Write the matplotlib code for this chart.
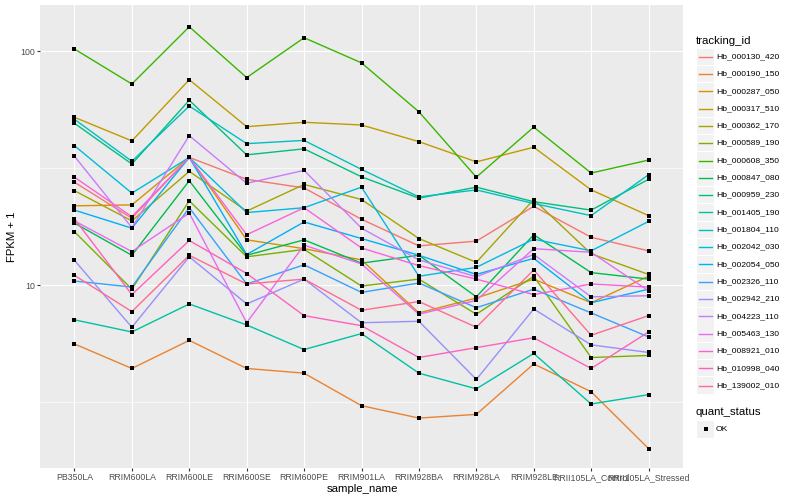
import matplotlib
matplotlib.use('Agg')
import matplotlib.pyplot as plt
import numpy as np
from matplotlib.patches import Rectangle
from matplotlib.ticker import FixedLocator, FixedFormatter, NullFormatter

plt.rcParams['font.family'] = ['Liberation Sans', 'DejaVu Sans']

samples = ['PB350LA', 'RRIM600LA', 'RRIM600LE', 'RRIM600SE', 'RRIM600PE', 'RRIM901LA',
           'RRIM928BA', 'RRIM928LA', 'RRIM928LE', 'RRII105LA_Control', 'RRII105LA_Stressed']

tracking_ids = ['Hb_000130_420', 'Hb_000190_150', 'Hb_000287_050', 'Hb_000317_510',
                'Hb_000362_170', 'Hb_000589_190', 'Hb_000608_350', 'Hb_000847_080',
                'Hb_000959_230', 'Hb_001405_190', 'Hb_001804_110', 'Hb_002042_030',
                'Hb_002054_050', 'Hb_002326_110', 'Hb_002942_210', 'Hb_004223_110',
                'Hb_005463_130', 'Hb_008921_010', 'Hb_010998_040', 'Hb_139002_010']

# FPKM + 1 values, one list per gene (order of samples)
hb_000130_420 = [27.5, 19.3, 35.1, 28.3, 26.0, 19.1, 14.7, 15.4, 21.7, 16.0, 14.0]
hb_000190_150 = [5.6, 4.4, 5.8, 4.4, 4.2, 3.05, 2.7, 2.8, 4.6, 3.5, 2.0]
hb_000287_050 = [21.8, 22.0, 35.1, 15.6, 14.3, 12.8, 7.6, 8.8, 10.6, 8.4, 10.9]
hb_000317_510 = [52.1, 41.3, 75.4, 47.5, 49.6, 48.3, 41.0, 33.6, 38.8, 25.5, 19.8]
hb_000362_170 = [25.3, 18.8, 30.6, 20.7, 26.9, 23.2, 15.8, 12.5, 23.2, 13.6, 11.1]
hb_000589_190 = [16.9, 9.6, 22.9, 13.2, 14.2, 9.9, 10.6, 7.5, 10.9, 4.9, 5.0]
hb_000608_350 = [102.0, 72.3, 127.0, 77.0, 114.0, 89.0, 55.0, 28.9, 47.3, 30.1, 34.2]
hb_000847_080 = [18.4, 13.4, 27.9, 13.4, 15.6, 12.4, 13.4, 8.9, 16.4, 11.3, 10.6]
hb_000959_230 = [49.1, 32.9, 61.6, 36.0, 38.2, 29.0, 23.5, 26.2, 22.7, 20.9, 28.3]
hb_001405_190 = [7.1, 6.3, 8.3, 6.75, 5.3, 6.2, 4.2, 3.6, 5.1, 3.1, 3.4]
hb_001804_110 = [51.1, 33.8, 58.2, 40.2, 41.5, 31.2, 23.8, 25.5, 22.3, 19.8, 29.6]
hb_002042_030 = [39.4, 24.7, 35.1, 20.4, 21.4, 26.2, 10.9, 11.9, 15.7, 14.0, 18.7]
hb_002054_050 = [20.9, 17.5, 35.1, 13.5, 18.6, 15.8, 13.4, 11.1, 13.0, 8.4, 9.6]
hb_002326_110 = [10.4, 9.8, 21.4, 10.1, 12.2, 9.3, 10.2, 8.0, 9.6, 7.6, 6.0]
hb_002942_210 = [12.75, 6.6, 13.2, 8.3, 10.6, 6.9, 7.0, 3.95, 7.9, 5.55, 5.15]
hb_004223_110 = [35.5, 17.6, 43.5, 27.2, 30.9, 17.5, 12.8, 10.85, 13.5, 8.9, 9.0]
hb_005463_130 = [18.8, 13.9, 20.3, 6.9, 14.8, 12.3, 7.5, 8.6, 14.3, 13.8, 9.45]
hb_008921_010 = [28.9, 19.6, 35.1, 16.4, 21.4, 14.4, 12.1, 10.6, 9.1, 10.1, 9.8]
hb_010998_040 = [19.2, 9.1, 15.5, 11.2, 7.4, 6.7, 4.9, 5.4, 5.95, 4.4, 6.3]
hb_139002_010 = [11.0, 7.7, 13.4, 10.1, 10.6, 7.8, 8.5, 6.6, 11.6, 6.1, 7.4]

series = [hb_000130_420, hb_000190_150, hb_000287_050, hb_000317_510, hb_000362_170,
          hb_000589_190, hb_000608_350, hb_000847_080, hb_000959_230, hb_001405_190,
          hb_001804_110, hb_002042_030, hb_002054_050, hb_002326_110, hb_002942_210,
          hb_004223_110, hb_005463_130, hb_008921_010, hb_010998_040, hb_139002_010]

colors = ['#F8766D', '#EA8331', '#D89000', '#C09B00', '#A3A500', '#7CAE00', '#39B600',
          '#00BB4E', '#00BF7D', '#00C1A3', '#00BFC4', '#00BAE0', '#00B0F6', '#35A2FF',
          '#9590FF', '#C77CFF', '#E76BF3', '#FA62DB', '#FF62BC', '#FF6C91']

fig = plt.figure(figsize=(8, 5), dpi=100)
ax = fig.add_axes([40 / 800, 32 / 500, 643 / 800, 463 / 500])
ax.set_facecolor('#EBEBEB')

x = np.arange(len(samples))
for vals, col in zip(series, colors):
    ax.plot(x, vals, color=col, lw=1.0, zorder=2)
for vals in series:
    ax.plot(x, vals, ls='none', marker='s', ms=3.1, mew=0, color='black', zorder=3)

ax.set_yscale('log')
ax.set_ylim(1.652, 157.3)
ax.set_xlim(-0.6, len(samples) - 0.4)
ax.set_xticks(x)
ax.set_xticklabels(samples)
ax.yaxis.set_major_locator(FixedLocator([10, 100]))
ax.yaxis.set_major_formatter(FixedFormatter(['10', '100']))
ax.yaxis.set_minor_locator(FixedLocator([10 ** 0.5, 10 ** 1.5]))
ax.yaxis.set_minor_formatter(NullFormatter())
ax.xaxis.set_minor_locator(FixedLocator([]))
ax.grid(which='major', color='white', lw=0.85)
ax.grid(which='minor', axis='y', color='white', lw=0.45)
ax.set_axisbelow(True)
for s in ax.spines.values():
    s.set_visible(False)
ax.tick_params(which='major', length=2, width=0.8, color='#333333',
               labelsize=6.3, labelcolor='#4D4D4D', pad=1.5)
ax.tick_params(which='minor', length=0)

ov = fig.add_axes([0, 0, 1, 1], zorder=5)
ov.set_xlim(0, 800)
ov.set_ylim(500, 0)
ov.axis('off')

ov.text(362, 489, 'sample_name', fontsize=8.2, ha='center', va='center', color='black')
ov.text(12, 237, 'FPKM + 1', fontsize=8.2, ha='center', va='center', rotation=90, color='black')

ov.text(696, 40.5, 'tracking_id', fontsize=8.2, ha='left', va='center')
step = 17.31
for i, (name, col) in enumerate(zip(tracking_ids, colors)):
    yc = 56.7 + i * step
    ov.add_patch(Rectangle((697.3, yc - 8.2), 16.4, 16.4, facecolor='#F2F2F2', edgecolor='none'))
    ov.plot([698.5, 712.2], [yc, yc], color=col, lw=1.0)
    ov.text(716, yc, name, fontsize=6.1, ha='left', va='center', color='black')

ov.text(696, 412.3, 'quant_status', fontsize=8.2, ha='left', va='center')
ov.add_patch(Rectangle((697.3, 429.3 - 8.2), 16.4, 16.4, facecolor='#F2F2F2', edgecolor='none'))
ov.plot([705.5], [429.3], ls='none', marker='s', ms=3.1, mew=0, color='black')
ov.text(716, 429.3, 'OK', fontsize=6.1, ha='left', va='center', color='black')

fig.savefig('out.png', dpi=100, facecolor='white')
